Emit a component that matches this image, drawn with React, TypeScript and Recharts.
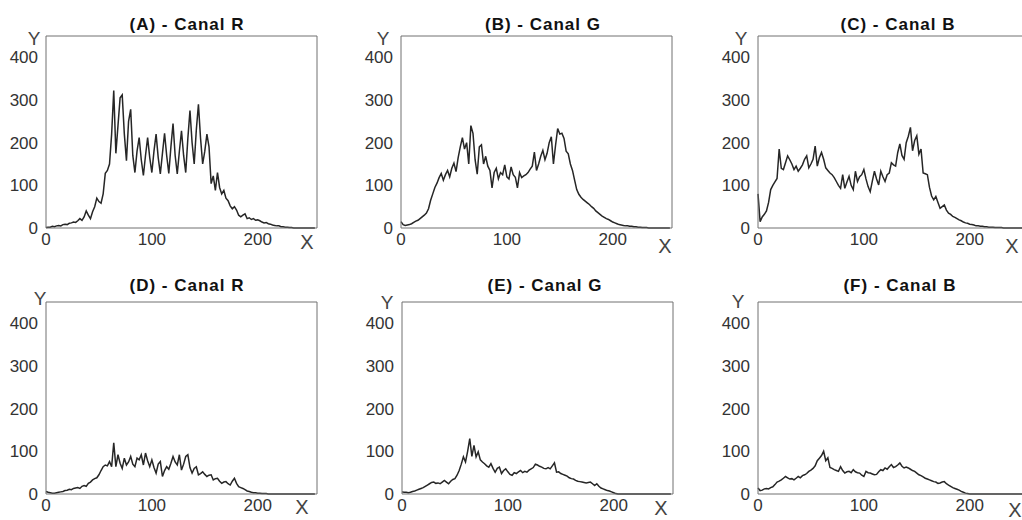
import { Line, LineChart, XAxis, YAxis } from "recharts";

// histogram bins, sampled every 2 intensity levels (0..254)
const BINS = Array.from({ length: 128 }, (_, i) => i * 2);
const X_TICKS = [0, 100, 200];
const Y_TICKS = [0, 100, 200, 300, 400];

const CANAL_A = [
  1, 2, 2, 4, 3, 5, 6, 5, 8, 9, 8, 11, 12, 14, 13, 17,
  22, 18, 26, 40, 30, 22, 38, 50, 70, 62, 58, 80, 128, 135, 150, 220,
  322, 175, 240, 305, 312, 220, 158, 250, 278, 170, 130, 180, 212, 160, 123, 170,
  212, 165, 130, 180, 220, 165, 127, 175, 222, 170, 128, 190, 245, 170, 127, 180,
  228, 170, 130, 210, 275, 200, 150, 230, 290, 210, 150, 180, 220, 190, 104, 122,
  88, 130, 95, 80, 88, 70, 64, 52, 45, 50, 42, 30, 26, 30, 33, 22,
  24, 20, 22, 18, 19, 17, 14, 12, 13, 10, 9, 7, 6, 5, 5, 3,
  3, 2, 2, 1, 1, 0, 0, 0, 0, 0, 0, 0, 0, 0, 0, 0,
];

const CANAL_B = [
  15, 8, 6, 7, 8, 10, 13, 16, 18, 22, 26, 30, 35, 45, 65, 80,
  95, 105, 118, 128, 112, 125, 135, 120, 140, 152, 132, 165, 190, 212, 185, 200,
  150, 240, 222, 160, 126, 190, 195, 150, 168, 145, 135, 94, 130, 140, 115, 130,
  125, 148, 120, 115, 143, 125, 119, 94, 130, 118, 122, 125, 130, 138, 145, 178,
  135, 150, 168, 182, 160, 175, 200, 214, 150, 194, 233, 220, 222, 210, 180, 174,
  150, 135, 112, 90, 79, 72, 67, 63, 59, 55, 50, 46, 40, 36, 32, 28,
  25, 22, 20, 17, 14, 12, 10, 8, 7, 6, 5, 5, 4, 4, 3, 3,
  2, 2, 1, 1, 1, 0, 0, 0, 0, 0, 0, 0, 0, 0, 0, 0,
];

const CANAL_C = [
  80, 15, 26, 32, 40, 60, 90, 100, 108, 116, 185, 140, 137, 153, 169, 160,
  150, 137, 145, 133, 140, 148, 161, 169, 141, 150, 161, 192, 145, 165, 177, 161,
  141, 135, 129, 125, 118, 109, 100, 93, 125, 93, 108, 121, 100, 90, 133, 109,
  120, 125, 137, 115, 97, 85, 110, 133, 115, 101, 133, 120, 109, 125, 129, 153,
  148, 145, 177, 197, 170, 161, 200, 215, 236, 181, 205, 216, 173, 185, 129, 127,
  125, 95, 75, 66, 74, 60, 46, 50, 54, 42, 35, 32, 27, 25, 22, 19,
  17, 14, 12, 11, 9, 8, 7, 5, 5, 4, 4, 3, 3, 2, 2, 2,
  1, 1, 1, 1, 0, 0, 0, 0, 0, 0, 0, 0, 0, 0, 0, 0,
];

const CANAL_D = [
  6, 4, 3, 2, 2, 3, 4, 5, 6, 8, 9, 11, 10, 13, 14, 15,
  13, 18, 20, 18, 25, 28, 33, 36, 38, 45, 55, 64, 68, 66, 76, 64,
  120, 64, 92, 72, 60, 84, 68, 75, 88, 70, 64, 84, 80, 92, 68, 96,
  78, 64, 80, 62, 49, 70, 76, 41, 55, 64, 58, 72, 88, 75, 68, 92,
  56, 70, 88, 92, 62, 49, 60, 64, 45, 48, 52, 46, 41, 44, 45, 33,
  36, 37, 30, 25, 28, 29, 24, 21, 30, 37, 25, 17, 15, 13, 10, 7,
  6, 4, 3, 3, 2, 2, 1, 1, 1, 0, 0, 0, 0, 0, 0, 0,
  0, 0, 0, 0, 0, 0, 0, 0, 0, 0, 0, 0, 0, 0, 0, 0,
];

const CANAL_E = [
  5, 4, 4, 3, 4, 6, 7, 9, 11, 13, 15, 18, 21, 24, 27, 28,
  25, 26, 24, 28, 32, 28, 24, 30, 34, 36, 44, 55, 70, 87, 75, 100,
  130, 88, 114, 87, 99, 80, 75, 71, 66, 63, 71, 60, 51, 60, 63, 48,
  55, 59, 52, 46, 44, 50, 48, 52, 55, 50, 53, 51, 56, 59, 62, 70,
  68, 65, 63, 60, 59, 62, 59, 66, 73, 51, 52, 48, 46, 44, 42, 38,
  36, 35, 32, 30, 29, 28, 27, 26, 27, 28, 24, 20, 24, 18, 14, 12,
  10, 8, 7, 5, 3, 1, 0, 0, 0, 0, 0, 0, 0, 0, 0, 0,
  0, 0, 0, 0, 0, 0, 0, 0, 0, 0, 0, 0, 0, 0, 0, 0,
];

const CANAL_F = [
  14, 8, 9, 12, 13, 12, 15, 17, 22, 28, 30, 33, 37, 41, 38, 35,
  36, 33, 37, 41, 38, 43, 45, 48, 53, 56, 60, 66, 78, 84, 90, 100,
  78, 85, 62, 60, 57, 55, 53, 64, 55, 49, 52, 53, 50, 57, 52, 50,
  49, 44, 41, 53, 50, 49, 47, 45, 46, 52, 57, 55, 61, 58, 64, 69,
  62, 64, 68, 73, 65, 61, 63, 61, 58, 55, 53, 49, 45, 43, 40, 37,
  35, 33, 31, 29, 28, 25, 26, 28, 29, 24, 21, 18, 15, 13, 11, 9,
  6, 4, 2, 1, 0, 0, 0, 0, 0, 0, 0, 0, 0, 0, 0, 0,
  0, 0, 0, 0, 0, 0, 0, 0, 0, 0, 0, 0, 0, 0, 0, 0,
];

const TITLES = [
  "(A) - Canal R",
  "(B) - Canal G",
  "(C) - Canal B",
  "(D) - Canal R",
  "(E) - Canal G",
  "(F) - Canal B",
];
const SERIES = [CANAL_A, CANAL_B, CANAL_C, CANAL_D, CANAL_E, CANAL_F];

// layout of the six panels (plot box top-left, title and axis-letter centres)
const LAYOUT = [
  { left: 46, top: 37, title: [187, 24], y: [34, 38], x: [307, 242] },
  { left: 401, top: 37, title: [543, 24], y: [383, 38], x: [665, 246] },
  { left: 758, top: 37, title: [898, 24], y: [741, 38], x: [1012, 246] },
  { left: 46, top: 303, title: [187, 285], y: [40, 298], x: [302, 507] },
  { left: 402, top: 303, title: [545, 285], y: [387, 302], x: [661, 508] },
  { left: 758, top: 303, title: [900, 285], y: [738, 301], x: [1015, 510] },
];

const FONT = "'Liberation Sans', Arial, sans-serif";
const BOX = "#707070";
const INK = "#262626";
const TICK_FILL = "#333";

const PLOT_W = 270;
const PLOT_H = 191;
const Y_AXIS_W = 45;
const X_AXIS_H = 30;

function Histogram({ values }: { values: number[] }) {
  const rows = BINS.map((b, i) => ({ x: b, y: values[i] }));
  const tick = { fill: TICK_FILL, fontSize: 17, fontFamily: FONT };
  return (
    <LineChart
      width={Y_AXIS_W + PLOT_W + 5}
      height={PLOT_H + X_AXIS_H + 5}
      data={rows}
      margin={{ top: 4, right: 4, bottom: 0, left: 0 }}
    >
      <XAxis
        xAxisId="b"
        dataKey="x"
        type="number"
        domain={[0, 256]}
        ticks={X_TICKS}
        interval={0}
        height={X_AXIS_H}
        tickLine={false}
        tickSize={3}
        tickMargin={2}
        axisLine={{ stroke: BOX }}
        tick={tick}
      />
      <XAxis
        xAxisId="t"
        orientation="top"
        dataKey="x"
        type="number"
        domain={[0, 256]}
        ticks={X_TICKS}
        height={1}
        mirror
        tick={false}
        tickSize={3}
        tickLine={{ stroke: BOX }}
        axisLine={{ stroke: BOX }}
      />
      <YAxis
        yAxisId="l"
        type="number"
        domain={[0, 450]}
        ticks={Y_TICKS}
        interval={0}
        width={Y_AXIS_W}
        tickLine={false}
        tickSize={3}
        tickMargin={5}
        axisLine={{ stroke: BOX }}
        tick={tick}
      />
      <YAxis
        yAxisId="r"
        orientation="right"
        type="number"
        domain={[0, 450]}
        ticks={Y_TICKS}
        width={1}
        mirror
        tick={false}
        tickSize={3}
        tickLine={{ stroke: BOX }}
        axisLine={{ stroke: BOX }}
      />
      <Line
        xAxisId="b"
        yAxisId="l"
        type="linear"
        dataKey="y"
        stroke={INK}
        strokeWidth={1.5}
        dot={false}
        activeDot={false}
        isAnimationActive={false}
      />
    </LineChart>
  );
}

const centred = (x: number, y: number): React.CSSProperties => ({
  position: "absolute",
  left: x,
  top: y,
  transform: "translate(-50%, -50%)",
  lineHeight: 1,
  whiteSpace: "nowrap",
});

export default function App() {
  return (
    <div
      style={{
        position: "absolute",
        left: 0,
        top: 0,
        width: 1022,
        height: 520,
        overflow: "hidden",
        background: "#fff",
        fontFamily: FONT,
      }}
    >
      {LAYOUT.map((p, i) => (
        <div key={TITLES[i]}>
          <div
            style={{
              position: "absolute",
              left: p.left - Y_AXIS_W,
              top: p.top - 5,
            }}
          >
            <Histogram values={SERIES[i]} />
          </div>
          <div
            style={{
              ...centred(p.title[0], p.title[1]),
              fontWeight: "bold",
              fontSize: 17,
              letterSpacing: 1,
              color: "#111",
            }}
          >
            {TITLES[i]}
          </div>
          <div style={{ ...centred(p.y[0], p.y[1]), fontSize: 19, color: "#444" }}>Y</div>
          <div style={{ ...centred(p.x[0], p.x[1]), fontSize: 20, color: "#444" }}>X</div>
        </div>
      ))}
    </div>
  );
}
